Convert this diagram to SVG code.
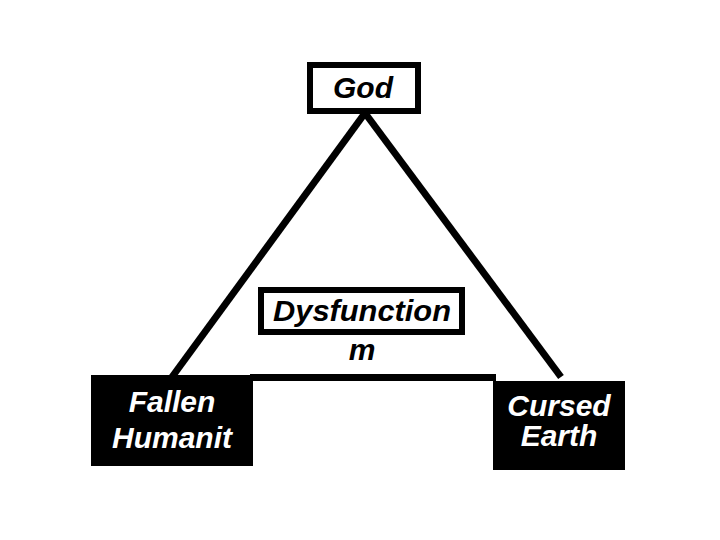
<svg xmlns="http://www.w3.org/2000/svg" width="720" height="540" viewBox="0 0 720 540">
<style>
.t{font-family:"Liberation Sans",Arial,sans-serif;font-weight:bold;font-style:italic;font-size:30px;text-anchor:middle}
.dk{fill:#000}
.wt{fill:#fff}
.bx{fill:#fff;stroke:#000;stroke-width:6}
.ln{stroke:#000;stroke-width:7;fill:none}
</style>
<rect width="720" height="540" fill="#fff"/>
<g id="connectors">
<line class="ln" x1="365" y1="113" x2="172" y2="377"/>
<line class="ln" x1="365" y1="113" x2="561" y2="377"/>
<line class="ln" x1="250" y1="377.5" x2="496" y2="377.5"/>
</g>
<g id="god">
<rect class="bx" x="310" y="65" width="108" height="46"/>
<text class="t dk" x="363" y="98">God</text>
</g>
<g id="dysfunction">
<rect class="bx" x="261" y="290" width="201" height="42"/>
<text class="t dk" x="362" y="321" textLength="178" lengthAdjust="spacingAndGlyphs">Dysfunction</text>
<text class="t dk" x="362" y="360">m</text>
</g>
<g id="fallen">
<rect class="dk" x="91" y="375" width="162" height="91"/>
<text class="t wt" x="172" y="412">Fallen</text>
<text class="t wt" x="172" y="448">Humanit</text>
</g>
<g id="cursed">
<rect class="dk" x="493" y="381" width="132" height="89"/>
<text class="t wt" x="559" y="416">Cursed</text>
<text class="t wt" x="559" y="446">Earth</text>
</g>
</svg>
